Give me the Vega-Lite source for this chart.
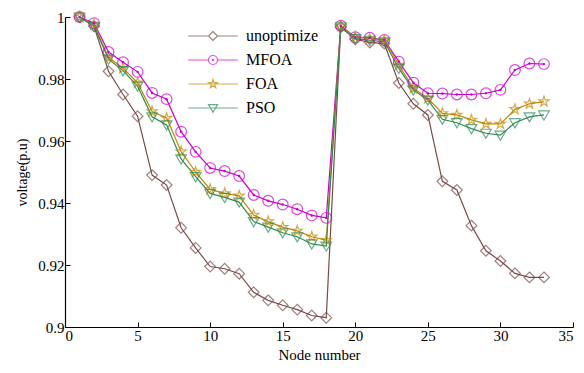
{
  "$schema": "https://vega.github.io/schema/vega-lite/v6.json",
  "width": 508,
  "height": 310,
  "autosize": {"type": "none"},
  "padding": {"left": 65, "top": 17, "right": 11, "bottom": 46},
  "background": "white",
  "config": {
    "font": "Liberation Serif",
    "view": {"stroke": null},
    "legend": {"labelFont": "Liberation Serif", "labelFontWeight": "normal"},
    "axis": {"grid": false, "domainColor": "#000", "tickColor": "#000", "labelColor": "#000", "titleColor": "#000", "labelFont": "Liberation Serif", "titleFont": "Liberation Serif", "labelFontSize": 15, "titleFontSize": 15, "titleFontWeight": "normal", "tickSize": -5, "domainWidth": 1.2, "tickWidth": 1}
  },
  "datasets": {
    "d": [
      {"node":1,"series":"unoptimize","v":1.0},{"node":2,"series":"unoptimize","v":0.997},{"node":3,"series":"unoptimize","v":0.9825},{"node":4,"series":"unoptimize","v":0.975},{"node":5,"series":"unoptimize","v":0.968},{"node":6,"series":"unoptimize","v":0.949},{"node":7,"series":"unoptimize","v":0.9458},{"node":8,"series":"unoptimize","v":0.932},{"node":9,"series":"unoptimize","v":0.9255},{"node":10,"series":"unoptimize","v":0.9195},{"node":11,"series":"unoptimize","v":0.9188},{"node":12,"series":"unoptimize","v":0.9172},{"node":13,"series":"unoptimize","v":0.9112},{"node":14,"series":"unoptimize","v":0.9086},{"node":15,"series":"unoptimize","v":0.907},{"node":16,"series":"unoptimize","v":0.9056},{"node":17,"series":"unoptimize","v":0.9037},{"node":18,"series":"unoptimize","v":0.903},{"node":19,"series":"unoptimize","v":0.9968},{"node":20,"series":"unoptimize","v":0.9928},{"node":21,"series":"unoptimize","v":0.9918},{"node":22,"series":"unoptimize","v":0.9914},{"node":23,"series":"unoptimize","v":0.9787},{"node":24,"series":"unoptimize","v":0.972},{"node":25,"series":"unoptimize","v":0.9684},{"node":26,"series":"unoptimize","v":0.947},{"node":27,"series":"unoptimize","v":0.9442},{"node":28,"series":"unoptimize","v":0.9327},{"node":29,"series":"unoptimize","v":0.9246},{"node":30,"series":"unoptimize","v":0.9213},{"node":31,"series":"unoptimize","v":0.9173},{"node":32,"series":"unoptimize","v":0.916},{"node":33,"series":"unoptimize","v":0.916},
      {"node":1,"series":"MFOA","v":1.0},{"node":2,"series":"MFOA","v":0.998},{"node":3,"series":"MFOA","v":0.9887},{"node":4,"series":"MFOA","v":0.9854},{"node":5,"series":"MFOA","v":0.9823},{"node":6,"series":"MFOA","v":0.9755},{"node":7,"series":"MFOA","v":0.9735},{"node":8,"series":"MFOA","v":0.963},{"node":9,"series":"MFOA","v":0.9565},{"node":10,"series":"MFOA","v":0.9513},{"node":11,"series":"MFOA","v":0.9503},{"node":12,"series":"MFOA","v":0.9487},{"node":13,"series":"MFOA","v":0.9426},{"node":14,"series":"MFOA","v":0.9407},{"node":15,"series":"MFOA","v":0.9395},{"node":16,"series":"MFOA","v":0.938},{"node":17,"series":"MFOA","v":0.936},{"node":18,"series":"MFOA","v":0.9352},{"node":19,"series":"MFOA","v":0.9972},{"node":20,"series":"MFOA","v":0.9935},{"node":21,"series":"MFOA","v":0.9933},{"node":22,"series":"MFOA","v":0.9926},{"node":23,"series":"MFOA","v":0.9856},{"node":24,"series":"MFOA","v":0.9788},{"node":25,"series":"MFOA","v":0.9754},{"node":26,"series":"MFOA","v":0.9753},{"node":27,"series":"MFOA","v":0.975},{"node":28,"series":"MFOA","v":0.975},{"node":29,"series":"MFOA","v":0.9754},{"node":30,"series":"MFOA","v":0.9765},{"node":31,"series":"MFOA","v":0.9829},{"node":32,"series":"MFOA","v":0.985},{"node":33,"series":"MFOA","v":0.9848},
      {"node":1,"series":"FOA","v":1.0},{"node":2,"series":"FOA","v":0.9975},{"node":3,"series":"FOA","v":0.987},{"node":4,"series":"FOA","v":0.9835},{"node":5,"series":"FOA","v":0.9788},{"node":6,"series":"FOA","v":0.9695},{"node":7,"series":"FOA","v":0.9674},{"node":8,"series":"FOA","v":0.9566},{"node":9,"series":"FOA","v":0.95},{"node":10,"series":"FOA","v":0.9444},{"node":11,"series":"FOA","v":0.9431},{"node":12,"series":"FOA","v":0.9423},{"node":13,"series":"FOA","v":0.9361},{"node":14,"series":"FOA","v":0.934},{"node":15,"series":"FOA","v":0.9322},{"node":16,"series":"FOA","v":0.931},{"node":17,"series":"FOA","v":0.9291},{"node":18,"series":"FOA","v":0.928},{"node":19,"series":"FOA","v":0.997},{"node":20,"series":"FOA","v":0.9935},{"node":21,"series":"FOA","v":0.993},{"node":22,"series":"FOA","v":0.9925},{"node":23,"series":"FOA","v":0.9845},{"node":24,"series":"FOA","v":0.977},{"node":25,"series":"FOA","v":0.9738},{"node":26,"series":"FOA","v":0.9689},{"node":27,"series":"FOA","v":0.9684},{"node":28,"series":"FOA","v":0.9668},{"node":29,"series":"FOA","v":0.9655},{"node":30,"series":"FOA","v":0.9655},{"node":31,"series":"FOA","v":0.9702},{"node":32,"series":"FOA","v":0.972},{"node":33,"series":"FOA","v":0.9727},
      {"node":1,"series":"PSO","v":1.0},{"node":2,"series":"PSO","v":0.997},{"node":3,"series":"PSO","v":0.9864},{"node":4,"series":"PSO","v":0.9827},{"node":5,"series":"PSO","v":0.9777},{"node":6,"series":"PSO","v":0.9678},{"node":7,"series":"PSO","v":0.9652},{"node":8,"series":"PSO","v":0.9542},{"node":9,"series":"PSO","v":0.9485},{"node":10,"series":"PSO","v":0.9431},{"node":11,"series":"PSO","v":0.9418},{"node":12,"series":"PSO","v":0.9403},{"node":13,"series":"PSO","v":0.934},{"node":14,"series":"PSO","v":0.9322},{"node":15,"series":"PSO","v":0.9304},{"node":16,"series":"PSO","v":0.9291},{"node":17,"series":"PSO","v":0.9268},{"node":18,"series":"PSO","v":0.9261},{"node":19,"series":"PSO","v":0.9968},{"node":20,"series":"PSO","v":0.993},{"node":21,"series":"PSO","v":0.9925},{"node":22,"series":"PSO","v":0.992},{"node":23,"series":"PSO","v":0.9834},{"node":24,"series":"PSO","v":0.9765},{"node":25,"series":"PSO","v":0.9732},{"node":26,"series":"PSO","v":0.967},{"node":27,"series":"PSO","v":0.9659},{"node":28,"series":"PSO","v":0.964},{"node":29,"series":"PSO","v":0.9625},{"node":30,"series":"PSO","v":0.9619},{"node":31,"series":"PSO","v":0.9659},{"node":32,"series":"PSO","v":0.9678},{"node":33,"series":"PSO","v":0.9684}
    ]
  },
  "data": {"name": "d"},
  "encoding": {
    "x": {"field": "node", "type": "quantitative", "title": "Node number", "scale": {"domain": [0, 35], "nice": false}, "axis": {"values": [0,5,10,15,20,25,30,35], "labelPadding": 6, "titlePadding": 4}},
    "y": {"field": "v", "type": "quantitative", "title": "voltage(p.u)", "scale": {"domain": [0.9, 1], "nice": false}, "axis": {"values": [0.9,0.92,0.94,0.96,0.98,1], "labelExpr": "'' + datum.value", "labelPadding": 6, "titlePadding": 8, "titleFontSize": 14}}
  },
  "resolve": {"legend": {"color": "independent", "shape": "independent"}, "scale": {"shape": "independent"}},
  "layer": [
    {"mark": {"type": "line", "strokeWidth": 1.2},
     "encoding": {
       "color": {"field": "series", "type": "nominal", "scale": {"domain": ["unoptimize","MFOA","FOA","PSO"], "range": ["#7a4a4a","#cc00cc","#c08a00","#2e8b57"]}, "legend": null},
       "detail": {"field": "series"},
       "order": {"field": "node", "type": "quantitative"}
     }},
    {"mark": {"type": "point", "filled": false, "size": 115, "strokeWidth": 1.2},
     "encoding": {
       "color": {"field": "series", "type": "nominal", "legend": null},
       "shape": {"field": "series", "type": "nominal", "legend": null, "scale": {"domain": ["unoptimize","MFOA","FOA","PSO"], "range": ["M0,-1L1,0L0,1L-1,0Z","circle","M0,-1L0.2245,-0.309L0.951,-0.309L0.3633,0.118L0.5878,0.809L0,0.382L-0.5878,0.809L-0.3633,0.118L-0.951,-0.309L-0.2245,-0.309Z","M-1,-0.75L1,-0.75L0,0.95Z"]}}
     }},
    {"transform": [{"filter": "datum.series === 'MFOA'"}], "mark": {"type": "circle", "size": 6, "opacity": 1, "color": "#cc00cc"}},
    {"transform": [{"filter": "false"}],
     "mark": {"type": "point", "filled": false, "strokeWidth": 1.2},
     "encoding": {
       "color": {"field": "series", "type": "nominal", "legend": {"orient": "none", "legendX": 140, "legendY": 11, "title": null, "labelFontSize": 16, "labelColor": "#000", "labelOffset": 25, "rowPadding": 8, "symbolSize": 81, "symbolStrokeWidth": 1.2, "symbolFillColor": "transparent",
         "labelExpr": "datum.value === 'unoptimize' ? '\u00a0\u00a0unoptimize' : datum.label"}},
       "shape": {"field": "series", "type": "nominal", "legend": {"orient": "none", "legendX": 140, "legendY": 11, "title": null, "labelFontSize": 16, "labelColor": "#000", "labelOffset": 25, "rowPadding": 8, "symbolSize": 81, "symbolStrokeWidth": 1.2, "symbolFillColor": "transparent",
         "labelExpr": "datum.value === 'unoptimize' ? '\u00a0\u00a0unoptimize' : datum.label"},
         "scale": {"domain": ["unoptimize","MFOA","FOA","PSO"], "range": ["M-5.5,0H-1M1,0H5.5M0,-1L1,0L0,1L-1,0Z","M-5.5,0H-1M1,0H5.5M1,0A1,1,0,1,1,-1,0A1,1,0,1,1,1,0ZM0.15,0A0.15,0.15,0,1,1,-0.15,0A0.15,0.15,0,1,1,0.15,0Z","M-5.5,0H5.5M0,-1L0.2245,-0.309L0.951,-0.309L0.3633,0.118L0.5878,0.809L0,0.382L-0.5878,0.809L-0.3633,0.118L-0.951,-0.309L-0.2245,-0.309Z","M-5.5,0H5.5M-1,-0.75L1,-0.75L0,0.95Z"]}}
     }}
  ]
}
